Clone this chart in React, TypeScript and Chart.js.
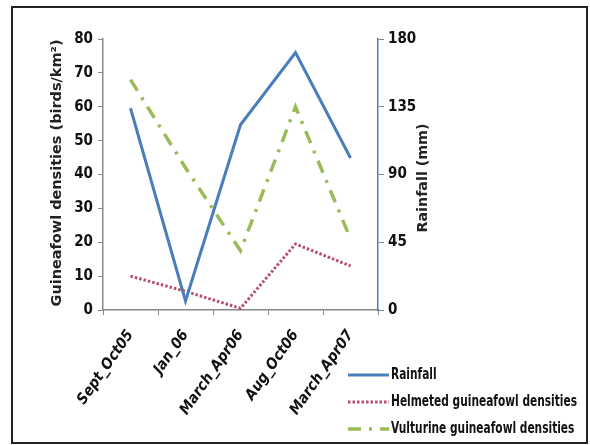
import React, { useEffect, useRef } from "react";
import { Chart, registerables } from "chart.js";

Chart.register(...registerables);

const categories = ["Sept_Oct05", "Jan_06", "March_Apr06", "Aug_Oct06", "March_Apr07"];
const rainfall = [134, 6, 123, 171, 101];
const helmeted = [10, 5.5, 0.5, 19.5, 13];
const vulturine = [68, 42, 17.5, 60, 21];
const leftTicks = [0, 10, 20, 30, 40, 50, 60, 70, 80];
const rightTicks = [0, 45, 90, 135, 180];

const BLUE = "#4a7ebb";
const RED = "#b5506b";
const GREEN = "#9bbb59";
const TICK_FONT = "'DejaVu Sans Condensed', 'DejaVu Sans', sans-serif";

const overlayPlugin = {
  id: "overlay",
  afterDraw(chart: any) {
    const ctx = chart.ctx;
    ctx.save();
    // axis titles
    ctx.fillStyle = "#222";
    ctx.font = "bold 13.5px 'DejaVu Sans', sans-serif";
    ctx.textAlign = "center";
    ctx.textBaseline = "middle";
    ctx.save();
    ctx.translate(57, 173);
    ctx.rotate(-Math.PI / 2);
    const t1 = "Guineafowl densities (birds/km\u00B2)";
    const w1 = ctx.measureText(t1).width;
    ctx.scale(267 / w1, 1);
    ctx.fillText(t1, 0, 0);
    ctx.restore();
    ctx.save();
    ctx.translate(423, 178);
    ctx.rotate(-Math.PI / 2);
    const t2 = "Rainfall (mm)";
    const w2 = ctx.measureText(t2).width;
    ctx.scale(109 / w2, 1);
    ctx.fillText(t2, 0, 0);
    ctx.restore();

    // legend
    const items = chart.data.datasets;
    const ys = [375, 402, 429];
    ctx.font = "bold 15px " + TICK_FONT;
    const ref = ctx.measureText("Helmeted guineafowl densities").width;
    const sx = 186 / ref;
    items.forEach((ds: any, i: number) => {
      const y = ys[i];
      ctx.save();
      ctx.strokeStyle = ds.borderColor;
      ctx.lineWidth = ds.borderWidth;
      ctx.setLineDash(ds.borderDash || []);
      ctx.beginPath();
      ctx.moveTo(348, y);
      ctx.lineTo(389, y);
      ctx.stroke();
      ctx.restore();
      ctx.save();
      ctx.fillStyle = "#111";
      ctx.font = "bold 15px " + TICK_FONT;
      ctx.textAlign = "left";
      ctx.textBaseline = "middle";
      ctx.translate(391, y);
      ctx.scale(sx, 1);
      ctx.fillText(ds.label, 0, 0);
      ctx.restore();
    });
    ctx.restore();
  },
};

export default function App() {
  const ref = useRef<HTMLCanvasElement>(null);
  useEffect(() => {
    document.body.style.margin = "0";
    const chart = new Chart(ref.current as HTMLCanvasElement, {
      type: "line",
      data: {
        labels: categories,
        datasets: [
          {
            label: "Rainfall",
            data: rainfall,
            yAxisID: "y1",
            borderColor: BLUE,
            borderWidth: 3,
            pointRadius: 0,
            tension: 0,
          },
          {
            label: "Helmeted guineafowl densities",
            data: helmeted,
            yAxisID: "y",
            borderColor: RED,
            borderWidth: 3,
            borderDash: [2.5, 2],
            pointRadius: 0,
            tension: 0,
          },
          {
            label: "Vulturine guineafowl densities",
            data: vulturine,
            yAxisID: "y",
            borderColor: GREEN,
            borderWidth: 3.5,
            borderDash: [13, 8, 3, 8],
            pointRadius: 0,
            tension: 0,
          },
        ] as any,
      },
      options: {
        animation: false,
        responsive: false,
        maintainAspectRatio: false,
        layout: { padding: { top: 39, left: 0, right: 0, bottom: 0 } },
        plugins: { legend: { display: false }, tooltip: { enabled: false } },
        scales: {
          x: {
            type: "category",
            offset: true,
            grid: {
              offset: true,
              drawOnChartArea: false,
              drawTicks: true,
              tickLength: 5,
              color: "#888",
            },
            border: { display: true, color: "#888", width: 1.5 },
            ticks: {
              maxRotation: 55,
              minRotation: 55,
              color: "#111",
              padding: 12,
              font: { family: TICK_FONT, size: 15, weight: "bold", style: "italic" },
            },
            afterFit(scale: any) {
              scale.height = 135;
            },
          },
          y: {
            position: "left",
            min: 0,
            max: 80,
            afterBuildTicks(scale: any) {
              scale.ticks = leftTicks.map((v) => ({ value: v }));
            },
            grid: { drawOnChartArea: false, drawTicks: true, tickLength: 5, color: "#888" },
            border: { display: true, color: "#888", width: 1.5 },
            ticks: {
              color: "#111",
              padding: 5,
              font: { family: TICK_FONT, size: 15, weight: "bold" },
            },
            afterFit(scale: any) {
              scale.width = 103;
            },
          },
          y1: {
            position: "right",
            min: 0,
            max: 180,
            afterBuildTicks(scale: any) {
              scale.ticks = rightTicks.map((v) => ({ value: v }));
            },
            grid: { drawOnChartArea: false, drawTicks: true, tickLength: 6, color: "#888" },
            border: { display: true, color: BLUE, width: 1.5 },
            ticks: {
              color: "#111",
              padding: 4,
              font: { family: TICK_FONT, size: 15, weight: "bold" },
            },
            afterFit(scale: any) {
              scale.width = 212;
            },
          },
        },
      } as any,
      plugins: [overlayPlugin],
    });
    return () => chart.destroy();
  }, []);

  return (
    <div style={{ position: "relative", width: 590, height: 445, background: "#fff" }}>
      <canvas ref={ref} width={590} height={445} style={{ position: "absolute", left: 0, top: 0 }} />
      <div
        style={{
          position: "absolute",
          left: 11,
          top: 6,
          width: 573,
          height: 434,
          border: "2px solid #222",
          pointerEvents: "none",
        }}
      />
    </div>
  );
}
